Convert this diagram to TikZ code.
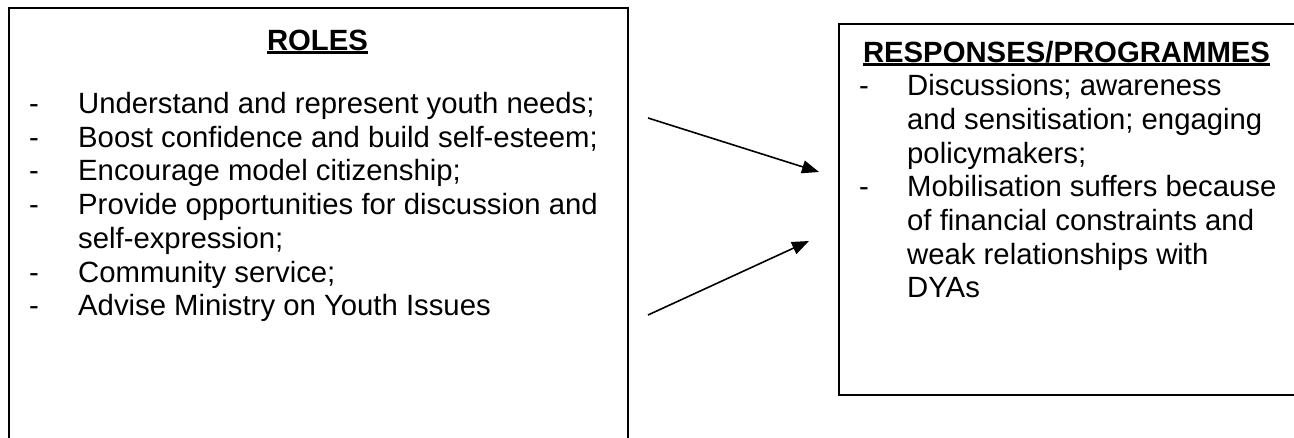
\documentclass[tikz,border=0pt]{standalone}
\usepackage{fontspec}
\setmainfont{Liberation Sans}
\usetikzlibrary{arrows.meta}
\newcommand{\myul}[1]{\setbox0=\hbox{#1}\rlap{\rule[-3.6pt]{\wd0}{2.4pt}}\box0}
\tikzset{
  box/.style={draw, line width=1.8pt, inner sep=0pt, anchor=north west},
  txt/.style={anchor=base west, inner sep=0pt, font=\fontsize{29.3}{30}\selectfont},
  head/.style={anchor=base, inner sep=0pt, font=\fontsize{29.3}{30}\selectfont\bfseries},
  arr/.style={-{Triangle[length=17pt,width=13pt]}, line width=1.6pt}
}
\begin{document}
\begin{tikzpicture}[x=1pt,y=-1pt]
\useasboundingbox[fill=white] (0,0) rectangle (1294,437);
% boxes
\node[box, minimum width=619pt, minimum height=460pt] (roles) at (8,7) {};
\node[box, minimum width=458pt, minimum height=371pt] (resp) at (838,23) {};
% headings
\node[head] (rolesh) at (317.5,50) {\myul{ROLES}};
\node[head] (resph) at (1066.5,62) {\myul{RESPONSES/PROGRAMMES}};
% left list
\node[txt] (lb1) at (29,113.5) {-};
\node[txt] (lt1) at (78,113.5) {Understand and represent youth needs;};
\node[txt] (lb2) at (29,147.2) {-};
\node[txt] (lt2) at (78,147.2) {Boost confidence and build self-esteem;};
\node[txt] (lb3) at (29,180.9) {-};
\node[txt] (lt3) at (78,180.9) {Encourage model citizenship;};
\node[txt] (lb4) at (29,214.6) {-};
\node[txt] (lt4) at (78,214.6) {Provide opportunities for discussion and};
\node[txt] (lt4b) at (78,248.3) {self-expression;};
\node[txt] (lb5) at (29,282) {-};
\node[txt] (lt5) at (78,282) {Community service;};
\node[txt] (lb6) at (29,315.7) {-};
\node[txt] (lt6) at (78,315.7) {Advise Ministry on Youth Issues};
% right list
\node[txt] (rb1) at (859,95.6) {-};
\node[txt] (rt1) at (907,95.6) {Discussions; awareness};
\node[txt] (rt1b) at (907,129.3) {and sensitisation; engaging};
\node[txt] (rt1c) at (907,163) {policymakers;};
\node[txt] (rb2) at (859,196.7) {-};
\node[txt] (rt2) at (907,196.7) {Mobilisation suffers because};
\node[txt] (rt2b) at (907,230.4) {of financial constraints and};
\node[txt] (rt2c) at (907,264.1) {weak relationships with};
\node[txt] (rt2d) at (907,297.8) {DYAs};
% arrows
\coordinate (a1s) at (648,118);
\coordinate (a1e) at (819,172);
\coordinate (a2s) at (648,315);
\coordinate (a2e) at (809,241);
\draw[arr] (a1s) -- (a1e);
\draw[arr] (a2s) -- (a2e);
\end{tikzpicture}
\end{document}
